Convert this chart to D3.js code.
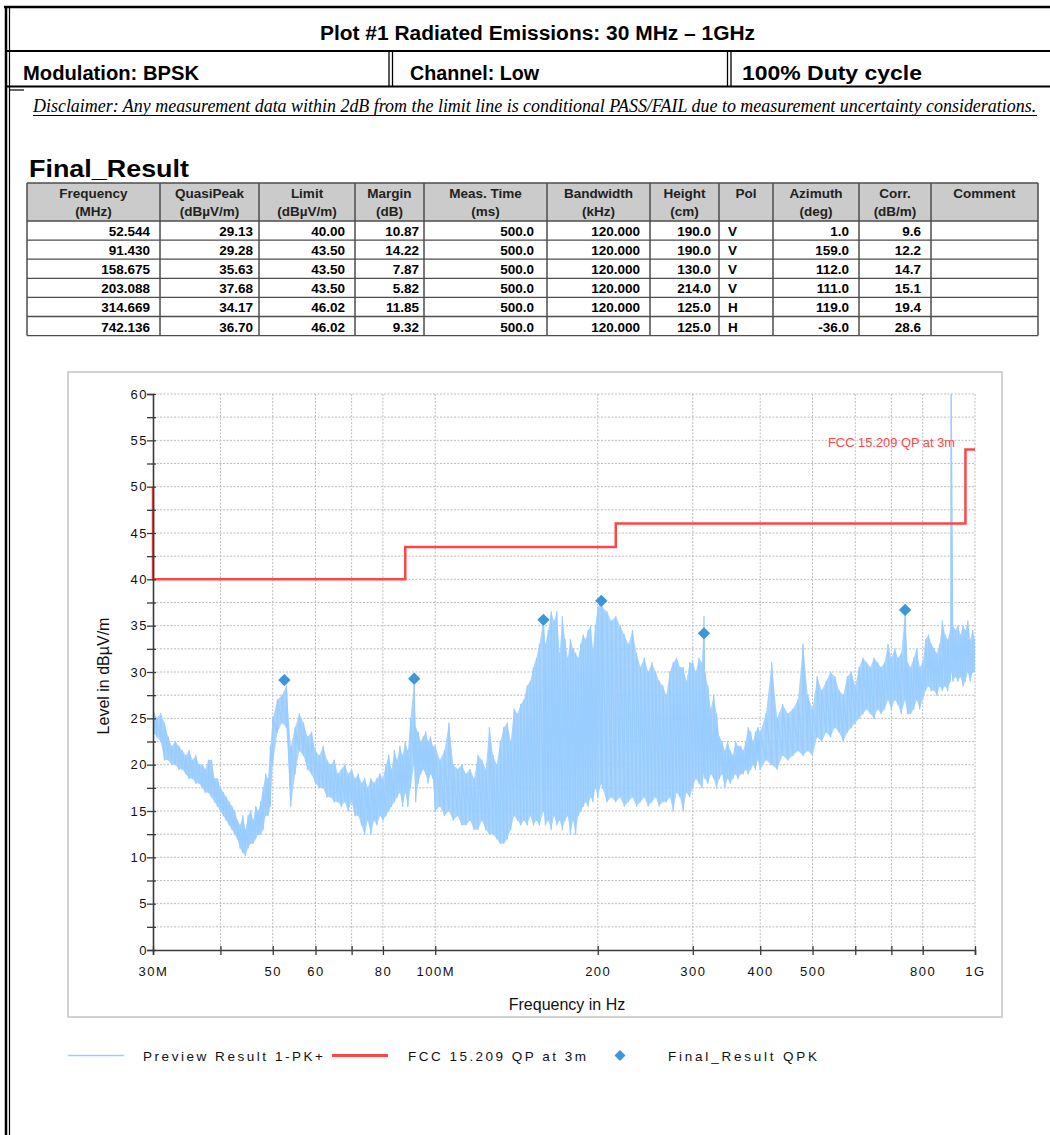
<!DOCTYPE html>
<html><head><meta charset="utf-8">
<script src="https://cdn.jsdelivr.net/npm/d3@7"></script>
<style>body{margin:0;background:#fff}svg{display:block}</style>
</head><body>
<svg id="c" width="1050" height="1135"></svg>
<script>
// ---------------- DATA ----------------
const titleText = "Plot #1 Radiated Emissions: 30 MHz \u2013 1GHz";
const infoCells = ["Modulation: BPSK", "Channel: Low", "100% Duty cycle"];
const disclaimerText = "Disclaimer: Any measurement data within 2dB from the limit line is conditional PASS/FAIL due to measurement uncertainty considerations.";
const tableTitle = "Final_Result";
const tableHead1 = ["Frequency","QuasiPeak","Limit","Margin","Meas. Time","Bandwidth","Height","Pol","Azimuth","Corr.","Comment"];
const tableHead2 = ["(MHz)","(dB\u00b5V/m)","(dB\u00b5V/m)","(dB)","(ms)","(kHz)","(cm)","","(deg)","(dB/m)",""];
const resFreq   = ["52.544","91.430","158.675","203.088","314.669","742.136"];
const resQP     = ["29.13","29.28","35.63","37.68","34.17","36.70"];
const resLimit  = ["40.00","43.50","43.50","43.50","46.02","46.02"];
const resMargin = ["10.87","14.22","7.87","5.82","11.85","9.32"];
const resTime   = ["500.0","500.0","500.0","500.0","500.0","500.0"];
const resBW     = ["120.000","120.000","120.000","120.000","120.000","120.000"];
const resHeight = ["190.0","190.0","130.0","214.0","125.0","125.0"];
const resPol    = ["V","V","V","V","H","H"];
const resAz     = ["1.0","159.0","112.0","111.0","119.0","-36.0"];
const resCorr   = ["9.6","12.2","14.7","15.1","19.4","28.6"];
const resComment= ["","","","","",""];

const limitFreq  = [30, 30, 88, 88, 216, 216, 960, 960, 1000];
const limitLevel = [50, 40, 40, 43.5, 43.5, 46.02, 46.02, 54, 54];
const limitLabel = "FCC 15.209 QP at 3m";

const xTickValues = [30,40,50,60,70,80,100,200,300,400,500,600,700,800,1000];
const xTickLabels = ["30M","","50","60","","80","100M","200","300","400","500","","","800","1G"];
const yTickValues = [0,2.5,5,7.5,10,12.5,15,17.5,20,22.5,25,27.5,30,32.5,35,37.5,40,42.5,45,47.5,50,52.5,55,57.5,60];
const yTickLabels = ["0","","5","","10","","15","","20","","25","","30","","35","","40","","45","","50","","55","","60"];
const xAxisTitle = "Frequency in Hz";
const yAxisTitle = "Level in dB\u00b5V/m";
const legendNames = ["Preview Result 1-PK+", "FCC 15.209 QP at 3m", "Final_Result QPK"];

// Preview Result 1-PK+ trace: frequency (MHz), peak-hold max and min per sample (dBuV/m)
const specFreq = [
 30,30.5,31,31.5,32,32.5,33,33.5,34,34.5,35,35.5,36,36.5,37,37.5,38,38.5,39,39.5,
 40,40.5,41,41.5,42,42.5,43,43.5,44,44.5,45,45.5,46,46.5,47,47.5,48,48.5,49,49.5,
 50,51,52,53,54,55,56,57,58,59,60,61,62,63,64,65,66,67,68,69,70,71,72,73,74,75,76,77,78,79,
 80,81,82,83,84,85,86,87,88,89,90,91.4,92,93,94,95,96,97,98,99,
 100,102,104,106,108,110,112,114,116,118,120,122,124,126,128,130,132,134,136,138,140,142,144,146,148,150,152,154,156,158.7,
 160,162,164,166,168,170,172,174,176,178,180,182,184,186,188,190,192,194,196,198,200,203.1,
 204,208,212,216,220,224,228,232,236,240,244,248,252,256,260,264,268,272,276,280,284,288,292,296,300,304,308,312,314.7,
 316,320,324,328,332,336,340,344,348,352,356,360,364,368,372,376,380,384,388,392,396,
 400,410,420,430,440,450,460,470,480,490,500,510,520,530,540,550,560,570,580,590,600,610,620,630,640,650,660,670,680,690,700,710,720,730,742.1,
 750,760,770,780,790,800,810,820,830,840,850,860,870,880,890,900,903,910,920,930,940,950,960,970,980,990,1000];
const specHi = [
 26,25,25.5,24.5,23,22,22.5,22,21.5,21,21.5,20.5,21,20,20,19.5,20.5,20.5,18.5,18.5,
 17.5,17,16.5,16,15.5,15,14,13.5,14.5,13,14.5,15,14,15.5,15,16,17.5,19,18.5,22,
 25,27,27.5,28.5,22,24,25.5,24.5,23,23.5,21.5,21,22,20.5,20,20.5,19,19.5,20,19,19.5,18.5,19,18,18.5,17.5,18.5,18,18.5,19,
 18.5,20,21,19.5,21.5,20.5,22,21,22.5,21.5,25,29,24,23.5,22.5,23,23.5,22.5,23,22,
 22,20.5,21.5,24.5,20,19.5,20,19,19.5,18.5,21,20.5,19.5,24,21,20,22.5,24,24.5,22.5,26,25.5,26.5,27,28.5,29,30.5,31.5,33,35.8,
 33,34.5,36.5,35.5,36.5,32,36,33.5,31.5,33.5,32.5,32,31.5,33,34,33.5,34.5,35,32.5,35,37,37.6,
 37,36.5,35.5,36,35,34,33,34.5,32,30.5,31.5,30,31,30,29,28.5,27.5,30,31,31.5,30.5,30.5,29,31,31,30,31.5,31,36,
 30,28.5,26,27.5,25.5,23,22.5,21.5,22.5,21.5,21,22.5,22,22,21.5,22.5,24,23.5,22.5,23.5,24,
 23.5,25.5,31,25,26.5,25.5,26,27,33,27.5,26,29.5,28,29,30,29.5,28,27.5,29.5,30,28.5,30.5,31.5,31,30.5,31.5,31,30.5,31,33,31.5,32.5,31.5,32,36.5,
 31,30.5,31.5,32.5,30.5,31,33.5,34,33,32.5,32,33,35.5,34,33.5,34.5,62,35,34.5,35,34,35,34.5,35.5,33.5,34.5,33.5];
const specLo = [
 23.5,23,22.5,20.5,20.5,20,20,19.5,19.5,19,18.5,18.5,18,18,17.5,17,17,16.5,16,15.5,
 15,14.5,14,13.5,13,12.5,12,11,10.5,10.2,11,11.5,11.5,12,12.5,12.5,13,14.5,14.5,15.5,
 20,23.5,24.5,24,15.5,19,21.5,21,19.5,19,18,17.5,17.5,16.5,16.5,16,16,15.5,16,15,16,14.5,14.5,13.5,12.5,14,12.5,14,13.5,14.5,
 14,14.5,15,15.5,16,16.5,17,15.5,17,15.5,17.5,20,16,18,19,19.5,19,18,19,18.5,
 15,15.5,14.5,15,14,14.5,13.5,13.5,14,13,13,14,13,12.5,12.5,12,11.5,11.5,12,13,14.5,14,13.5,14,13.5,14.5,13.5,14,13.5,15,
 13.5,14,13,14.5,13.5,14,13,14,14.5,12.5,14,12.5,14.5,15,15.5,16,15.5,16.5,16,17.5,16.5,18,
 17.5,16,16.5,16,16.5,15.5,16,16.5,15.5,16,16.5,15.5,16,16.5,15.5,16,16,16.5,15,17,16.5,15,17,16.5,17.5,18.5,18,17.5,19,
 18.5,18,19,18.5,17.5,18.5,19,17.5,18.5,18,18.5,19,18.5,19,19,19.5,19,19.5,20,19.5,20.5,
 19.5,20.5,20,19.5,21,20.5,21,21.5,21,21.5,21,23,22.5,23.5,23,24,23.5,22.5,23.5,24,24.5,25,25.5,26,25.5,25,26,25.5,26,27,26,27,26.5,25.5,27,
 25.5,25.5,26,27,26,27,28,28.5,28,28,27.5,28.5,28,28.5,28,29,30,29,29.5,29,29.5,28.5,29,30,29,30,30];

// ---------------- LAYOUT ----------------
const svg = d3.select("#c");
const NARROW = "'Liberation Sans Narrow','Arial Narrow','Liberation Sans',Arial,sans-serif";
const SANS = "'Liberation Sans',Arial,Helvetica,sans-serif";
const SERIF = "'Liberation Serif','Times New Roman',serif";

// page frame
const frame = svg.append("g").attr("stroke", "#000").attr("fill", "none");
frame.append("line").attr("x1", 4).attr("x2", 1050).attr("y1", 7).attr("y2", 7).attr("stroke-width", 2.5);
frame.append("line").attr("x1", 6).attr("x2", 6).attr("y1", 6).attr("y2", 1135).attr("stroke-width", 2.5);
frame.append("line").attr("x1", 9.5).attr("x2", 9.5).attr("y1", 6).attr("y2", 1135).attr("stroke-width", 1.2);
frame.append("line").attr("x1", 6).attr("x2", 1050).attr("y1", 51).attr("y2", 51).attr("stroke-width", 2.2);
frame.append("line").attr("x1", 6).attr("x2", 1050).attr("y1", 86.5).attr("y2", 86.5).attr("stroke-width", 2.2);
frame.append("line").attr("x1", 9.5).attr("x2", 24).attr("y1", 90).attr("y2", 90).attr("stroke-width", 1.2);
[389, 392.5, 727.5, 731].forEach(xx =>
  frame.append("line").attr("x1", xx).attr("x2", xx).attr("y1", 51).attr("y2", 87).attr("stroke-width", 1.3));

svg.append("text").attr("x", 320).attr("y", 40).attr("textLength", 435).attr("lengthAdjust", "spacingAndGlyphs")
  .style("font", "bold 20px " + NARROW).text(titleText);
const infoX = [23, 410, 742], infoW = [176, 129, 180];
infoCells.forEach((t, i) => svg.append("text").attr("x", infoX[i]).attr("y", 80)
  .attr("textLength", infoW[i]).attr("lengthAdjust", "spacingAndGlyphs")
  .style("font", "bold 20px " + NARROW).text(t));

// disclaimer: natural-size text scaled horizontally to fit its span
const disc = svg.append("text").attr("x", 0).attr("y", 0)
  .style("font", "italic 19px " + SERIF).text(disclaimerText);
const discW = disc.node().getComputedTextLength();
disc.attr("transform", `translate(33,112) scale(${1004 / discW},1)`);
svg.append("line").attr("x1", 33).attr("x2", 1037).attr("y1", 115.5).attr("y2", 115.5).attr("stroke", "#000").attr("stroke-width", 1);

// table
svg.append("text").attr("x", 29).attr("y", 177).attr("textLength", 160).attr("lengthAdjust", "spacingAndGlyphs")
  .style("font", "bold 24px " + SANS).text(tableTitle);
const tableCols = [resFreq,resQP,resLimit,resMargin,resTime,resBW,resHeight,resPol,resAz,resCorr,resComment];
const colX = [27,160,259,355,424,547,650,719,773,859,931,1038];
const padR = [10,6,10,5,13,10,8,0,10,10,0];
const headTop = 183, headBot = 221, rowH = 19.1, nRows = resFreq.length;
const TF = "bold 13.5px " + SANS;
const tbl = svg.append("g");
tbl.append("rect").attr("x", colX[0]).attr("y", headTop).attr("width", colX[11]-colX[0]).attr("height", headBot-headTop).attr("fill", "#cbcbcb");
const tBottom = headBot + nRows*rowH;
const hl = [headTop, headBot].concat(d3.range(1, nRows+1).map(i => headBot + i*rowH));
hl.forEach(yy => tbl.append("line").attr("x1", colX[0]).attr("x2", colX[11]).attr("y1", yy).attr("y2", yy).attr("stroke", "#4d4d4d").attr("stroke-width", 1.3));
colX.forEach(xx => tbl.append("line").attr("x1", xx).attr("x2", xx).attr("y1", headTop).attr("y2", tBottom).attr("stroke", "#4d4d4d").attr("stroke-width", 1.5));
tableHead1.forEach((t, i) => {
  const cx = (colX[i]+colX[i+1])/2;
  tbl.append("text").attr("x", cx).attr("y", headTop+15).attr("text-anchor", "middle").style("font", TF).attr("fill", "#222").text(t);
  tbl.append("text").attr("x", cx).attr("y", headTop+33).attr("text-anchor", "middle").style("font", TF).attr("fill", "#222").text(tableHead2[i]);
});
tableCols.forEach((col, c) => col.forEach((v, r) => {
  const yy = headBot + r*rowH + 15;
  if (c === 7) tbl.append("text").attr("x", colX[c]+9).attr("y", yy).style("font", TF).text(v);
  else tbl.append("text").attr("x", colX[c+1]-padR[c]).attr("y", yy).attr("text-anchor", "end").style("font", TF).text(v);
}));

// chart box
svg.append("rect").attr("x", 68).attr("y", 372).attr("width", 934).attr("height", 645)
  .attr("fill", "#fff").attr("stroke", "#c4c4c4").attr("stroke-width", 1.5);

const x = d3.scaleLog().domain([30, 1000]).range([153, 975]);
const y = d3.scaleLinear().domain([0, 60]).range([950, 394]);

svg.append("clipPath").attr("id", "plotclip").append("rect")
  .attr("x", 153).attr("y", 394).attr("width", 822).attr("height", 556);

// grid
const grid = svg.append("g").attr("stroke", "#bdbdbd").attr("stroke-width", 1).attr("stroke-dasharray", "2,1.5");
xTickValues.filter(v => v > 30).forEach(v =>
  grid.append("line").attr("x1", x(v)).attr("x2", x(v)).attr("y1", y(60)).attr("y2", y(0)));
yTickValues.filter(v => v > 0).forEach(v =>
  grid.append("line").attr("x1", x(30)).attr("x2", x(1000)).attr("y1", y(v)).attr("y2", y(v)));

// spectrum trace (max/min per sample): filled envelope + peak/min zigzag line
const specIdx = d3.range(specFreq.length);
svg.append("path").datum(specIdx).attr("clip-path", "url(#plotclip)")
  .attr("fill", "#99ccff").attr("fill-opacity", 0.85)
  .attr("d", d3.area().x(i => x(specFreq[i])).y0(i => y(specLo[i])).y1(i => y(specHi[i])));
const specPts = [];
specFreq.forEach((f, i) => { specPts.push([f, specLo[i]]); specPts.push([f, specHi[i]]); });
svg.append("path").datum(specPts).attr("clip-path", "url(#plotclip)")
  .attr("fill", "none").attr("stroke", "#99ccff").attr("stroke-width", 1.3).attr("stroke-linejoin", "round")
  .attr("d", d3.line().x(d => x(d[0])).y(d => y(d[1])));

// limit line
svg.append("path").datum(limitFreq.map((f, i) => [f, limitLevel[i]]))
  .attr("fill", "none").attr("stroke", "#ff4646").attr("stroke-width", 2.5)
  .attr("d", d3.line().x(d => x(d[0])).y(d => y(d[1])));
svg.append("text").attr("x", 955).attr("y", 447).attr("text-anchor", "end")
  .attr("textLength", 127).attr("lengthAdjust", "spacingAndGlyphs")
  .attr("fill", "#ff4646").style("font", "12.5px " + SANS).text(limitLabel);

// final result markers
const sq = d3.symbol().type(d3.symbolSquare).size(76);
resFreq.forEach((f, i) => svg.append("path").attr("d", sq())
  .attr("transform", `translate(${x(+f)},${y(+resQP[i])}) rotate(45)`).attr("fill", "#3d96dc"));

// axes
const axY = svg.append("g").attr("transform", "translate(153,0)")
  .call(d3.axisLeft(y).tickValues(yTickValues).tickFormat((d, i) => yTickLabels[i]).tickSize(6).tickPadding(3));
axY.select(".domain").attr("stroke", "#3a3a3a").attr("stroke-width", 1.6);
axY.selectAll(".tick line").attr("x1", 3).attr("x2", -6).attr("stroke", "#3a3a3a").attr("stroke-width", 1.3);
axY.selectAll(".tick text").style("font", "13px " + SANS).style("letter-spacing", "1.5px").attr("fill", "#111").attr("x", -5);

const axX = svg.append("g").attr("transform", "translate(0,950)")
  .call(d3.axisBottom(x).tickValues(xTickValues).tickFormat((d, i) => xTickLabels[i]).tickSize(5).tickPadding(12));
axX.select(".domain").attr("stroke", "#3a3a3a").attr("stroke-width", 1.6);
axX.selectAll(".tick line").attr("y1", -4).attr("y2", 5).attr("stroke", "#3a3a3a").attr("stroke-width", 1.3);
axX.selectAll(".tick text").style("font", "13px " + SANS).style("letter-spacing", "1.5px").attr("fill", "#111");

svg.append("text").attr("x", 567).attr("y", 1010).attr("text-anchor", "middle")
  .style("font", "16px " + SANS).attr("fill", "#111").text(xAxisTitle);
svg.append("text").attr("transform", "translate(109,676) rotate(-90)").attr("text-anchor", "middle")
  .style("font", "16px " + SANS).attr("fill", "#111").text(yAxisTitle);

// legend
const lg = svg.append("g");
lg.append("line").attr("x1", 68).attr("x2", 124).attr("y1", 1055.5).attr("y2", 1055.5).attr("stroke", "#99ccff").attr("stroke-width", 1.5);
lg.append("line").attr("x1", 332).attr("x2", 388).attr("y1", 1055.5).attr("y2", 1055.5).attr("stroke", "#ff4646").attr("stroke-width", 3);
lg.append("path").attr("d", d3.symbol().type(d3.symbolSquare).size(60)()).attr("transform", "translate(620,1055.5) rotate(45)").attr("fill", "#3d96dc");
const lgX = [143, 408, 668], lgW = [180, 178, 149];
legendNames.forEach((t, i) => lg.append("text").attr("x", lgX[i]).attr("y", 1061)
  .attr("textLength", lgW[i]).attr("lengthAdjust", "spacing")
  .style("font", "13.5px " + SANS).attr("fill", "#111").text(t));
</script>
</body></html>
